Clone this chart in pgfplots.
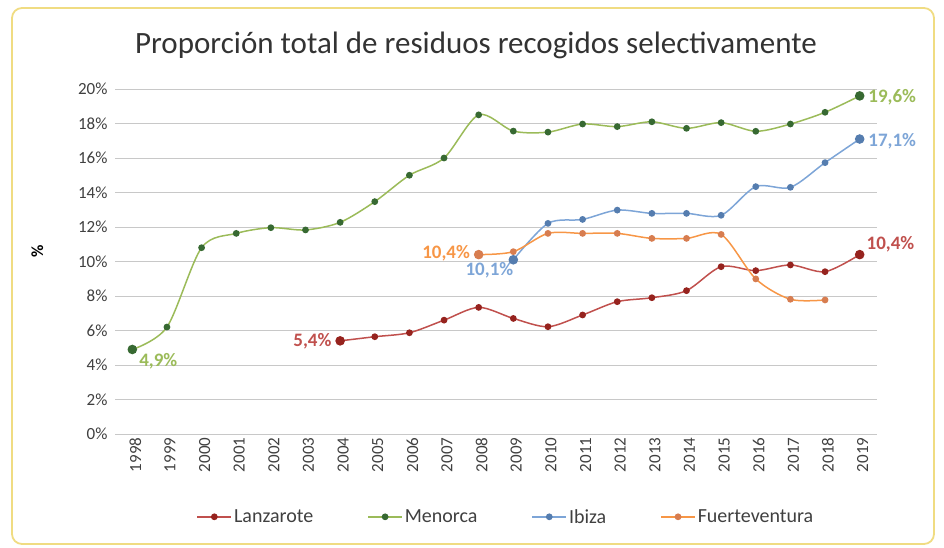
\documentclass[border=0pt]{standalone}
\usepackage{pgfplots}
\pgfplotsset{compat=1.18}
\usepackage{fontspec}
\setmainfont{Carlito}
\definecolor{lanz}{RGB}{192,80,77}
\definecolor{lanzm}{RGB}{150,35,30}
\definecolor{meno}{RGB}{155,187,89}
\definecolor{menom}{RGB}{55,105,50}
\definecolor{ibiz}{RGB}{125,165,215}
\definecolor{ibizm}{RGB}{85,125,175}
\definecolor{fuer}{RGB}{247,150,70}
\definecolor{fuerm}{RGB}{215,125,80}
\definecolor{gridc}{RGB}{200,200,200}
\definecolor{frame}{RGB}{240,220,130}
\begin{document}
\begin{tikzpicture}[x=1pt,y=1pt]
\useasboundingbox (0,0) rectangle (944,547);
\draw[frame, line width=1.8pt, rounded corners=10pt] (12,3) rectangle (934,539);
\node[font=\fontsize{31}{36}\selectfont, text=black!80] at (476,502) {Proporción total de residuos recogidos selectivamente};
\begin{axis}[
  at={(115pt,113pt)}, anchor=south west,
  scale only axis, width=762pt, height=345pt,
  xmin=1997.5, xmax=2019.5, ymin=0, ymax=20,
  xtick={1998,...,2019},
  xticklabel={\pgfmathprintnumber[1000 sep={},fixed]{\tick}},
  xticklabel style={rotate=90, anchor=east, yshift=-3pt, font=\fontsize{17}{19}\selectfont, text=black!75},
  ytick={0,2,...,20},
  yticklabel={\pgfmathprintnumber{\tick}\%},
  yticklabel style={font=\fontsize{17}{19}\selectfont, text=black!75, xshift=-4pt},
  /pgf/number format/assume math mode=true,
  ymajorgrids, grid style={gridc, line width=1pt},
  axis x line*=bottom, axis y line*=left,
  x axis line style={gridc, line width=1pt, -},
  y axis line style={draw=none},
  major tick length=0pt,
  ylabel={\%}, ylabel style={font=\fontsize{17}{19}\selectfont\bfseries, at={(axis description cs:-0.102,0.53)}, anchor=center},
  legend style={at={(0.513,-0.24)}, anchor=center, legend columns=4, draw=none, fill=none,
    font=\fontsize{20}{22}\selectfont, text=black!75, /tikz/every even column/.append style={column sep=52pt},
    nodes={inner xsep=2pt}},
  legend image code/.code={\draw[mark repeat=2,mark phase=2] plot coordinates {(0pt,0pt) (17pt,0pt) (34pt,0pt)};},
  legend cell align=left,
  clip=false,
  every axis plot/.append style={line width=1.5pt, smooth, tension=0.5},
]
\addplot[lanz, mark=*, mark size=2.6pt, mark options={lanzm, fill=lanzm}] coordinates {
(2004,5.4) (2005,5.64) (2006,5.87) (2007,6.6) (2008,7.34) (2009,6.7) (2010,6.22) (2011,6.9) (2012,7.67) (2013,7.9) (2014,8.31) (2015,9.7) (2016,9.47) (2017,9.8) (2018,9.41) (2019,10.4)};
\addlegendentry{Lanzarote}
\addplot[meno, mark=*, mark size=2.6pt, mark options={menom, fill=menom}] coordinates {
(1998,4.9) (1999,6.2) (2000,10.8) (2001,11.63) (2002,11.96) (2003,11.83) (2004,12.27) (2005,13.47) (2006,15.0) (2007,16.0) (2008,18.5) (2009,17.56) (2010,17.5) (2011,17.97) (2012,17.82) (2013,18.1) (2014,17.72) (2015,18.05) (2016,17.55) (2017,17.97) (2018,18.65) (2019,19.6)};
\addlegendentry{Menorca}
\addplot[ibiz, mark=*, mark size=2.6pt, mark options={ibizm, fill=ibizm}] coordinates {
(2009,10.1) (2010,12.21) (2011,12.44) (2012,12.98) (2013,12.79) (2014,12.79) (2015,12.68) (2016,14.34) (2017,14.3) (2018,15.73) (2019,17.1)};
\addlegendentry{Ibiza}
\addplot[fuer, mark=*, mark size=2.6pt, mark options={fuerm, fill=fuerm}] coordinates {
(2008,10.4) (2009,10.57) (2010,11.63) (2011,11.63) (2012,11.63) (2013,11.34) (2014,11.34) (2015,11.57) (2016,8.99) (2017,7.81) (2018,7.77)};
\addlegendentry{Fuerteventura}
% emphasised end points
\addplot[only marks, mark=*, mark size=4pt, lanzm, forget plot] coordinates {(2004,5.4) (2019,10.4)};
\addplot[only marks, mark=*, mark size=4pt, menom, forget plot] coordinates {(1998,4.9) (2019,19.6)};
\addplot[only marks, mark=*, mark size=4pt, ibizm, forget plot] coordinates {(2009,10.1) (2019,17.1)};
\addplot[only marks, mark=*, mark size=4pt, fuerm, forget plot] coordinates {(2008,10.4)};
% data labels
\node[anchor=west, text=meno, font=\fontsize{19}{21}\selectfont\bfseries] at (axis cs:2019.15,19.5) {19,6\%};
\node[anchor=west, text=ibiz, font=\fontsize{19}{21}\selectfont\bfseries] at (axis cs:2019.15,17.0) {17,1\%};
\node[anchor=west, text=lanz, font=\fontsize{19}{21}\selectfont\bfseries] at (axis cs:2019.1,11.0) {10,4\%};
\node[anchor=west, text=meno, font=\fontsize{19}{21}\selectfont\bfseries] at (axis cs:1998.1,4.2) {4,9\%};
\node[anchor=east, text=lanz, font=\fontsize{19}{21}\selectfont\bfseries] at (axis cs:2003.85,5.4) {5,4\%};
\node[anchor=east, text=fuer, font=\fontsize{19}{21}\selectfont\bfseries] at (axis cs:2007.85,10.5) {10,4\%};
\node[anchor=east, text=ibiz, font=\fontsize{19}{21}\selectfont\bfseries] at (axis cs:2009.1,9.5) {10,1\%};
\end{axis}
\end{tikzpicture}
\end{document}
